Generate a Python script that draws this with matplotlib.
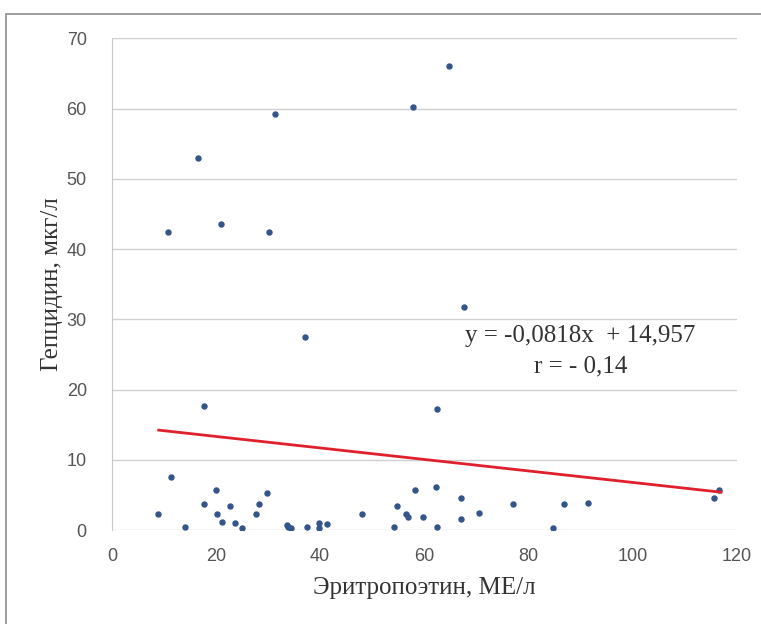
import matplotlib.pyplot as plt
import matplotlib.patches as patches
import numpy as np

# data
epo = [8.9, 10.8, 11.3, 14.0, 16.5, 17.7, 17.7, 20.0, 20.2, 21.0, 21.1, 22.7, 23.7, 25.0,
       27.7, 28.3, 29.8, 30.2, 31.3, 33.6, 33.9, 34.4, 37.0, 37.5, 39.7, 39.8, 41.3, 48.0,
       54.2, 54.8, 56.5, 56.8, 57.9, 58.3, 59.8, 62.3, 62.5, 62.5, 64.8, 67.1, 67.1, 67.6,
       70.6, 77.1, 84.8, 86.8, 91.5, 115.6, 116.7]
hep = [2.3, 42.4, 7.6, 0.4, 52.9, 17.6, 3.7, 5.7, 2.3, 43.5, 1.2, 3.4, 1.0, 0.3,
       2.3, 3.7, 5.3, 42.4, 59.2, 0.7, 0.4, 0.3, 27.5, 0.4, 1.0, 0.3, 0.8, 2.3,
       0.4, 3.4, 2.3, 1.8, 60.2, 5.7, 1.8, 6.1, 17.2, 0.4, 66.0, 4.5, 1.5, 31.7,
       2.4, 3.7, 0.3, 3.7, 3.8, 4.5, 5.7]
slope = -0.0818
intercept = 14.957
line_x = [9, 117]

serif = 'Liberation Serif'
sans = 'Liberation Sans'

fig = plt.figure(figsize=(7.61, 6.24), dpi=100)
ax = fig.add_axes([0.147, 0.1506, 0.821, 0.788])

# outer frame
fig.patches.append(patches.Rectangle((6/761, -0.01), 1.0, 1 - 14/624 + 0.01, transform=fig.transFigure,
                                     fill=False, edgecolor='#8c8c8c', linewidth=1.2))

ax.scatter(epo, hep, s=13, color='#34558a', zorder=3)
ly = [slope * x + intercept for x in line_x]
ax.plot(line_x, ly, color='#e0202c', linewidth=2, zorder=4)

ax.set_xlim(0, 120)
ax.set_ylim(0, 70)
ax.set_xticks(np.arange(0, 121, 20))
ax.set_yticks(np.arange(0, 71, 10))
ax.grid(axis='y', color='#d0d0d0', linewidth=1)
ax.set_axisbelow(True)
for s in ['top', 'right', 'bottom']:
    ax.spines[s].set_visible(False)
ax.spines['left'].set_color('#c8c8c8')
ax.tick_params(length=0, labelsize=13, colors='#555555')
ax.tick_params(axis='x', pad=13)
ax.tick_params(axis='y', pad=18)
for lab in ax.get_xticklabels() + ax.get_yticklabels():
    lab.set_fontfamily(sans)

ax.set_xlabel('Эритропоэтин, МЕ/л', fontsize=18, fontfamily=serif, color='#333333', va='center')
ax.set_ylabel('Гепцидин, мкг/л', fontsize=18, fontfamily=serif, color='#333333', va='center')
ax.xaxis.set_label_coords(0.5, -0.118)
ax.yaxis.set_label_coords(-0.096, 0.5)

ax.text(90.0, 27.6, 'y = -0,0818x  + 14,957', fontsize=18, fontfamily=serif, ha='center', va='center', color='#333333')
ax.text(90.0, 23.3, 'r = - 0,14', fontsize=18, fontfamily=serif, ha='center', va='center', color='#333333')

fig.savefig('out.png', dpi=100)
